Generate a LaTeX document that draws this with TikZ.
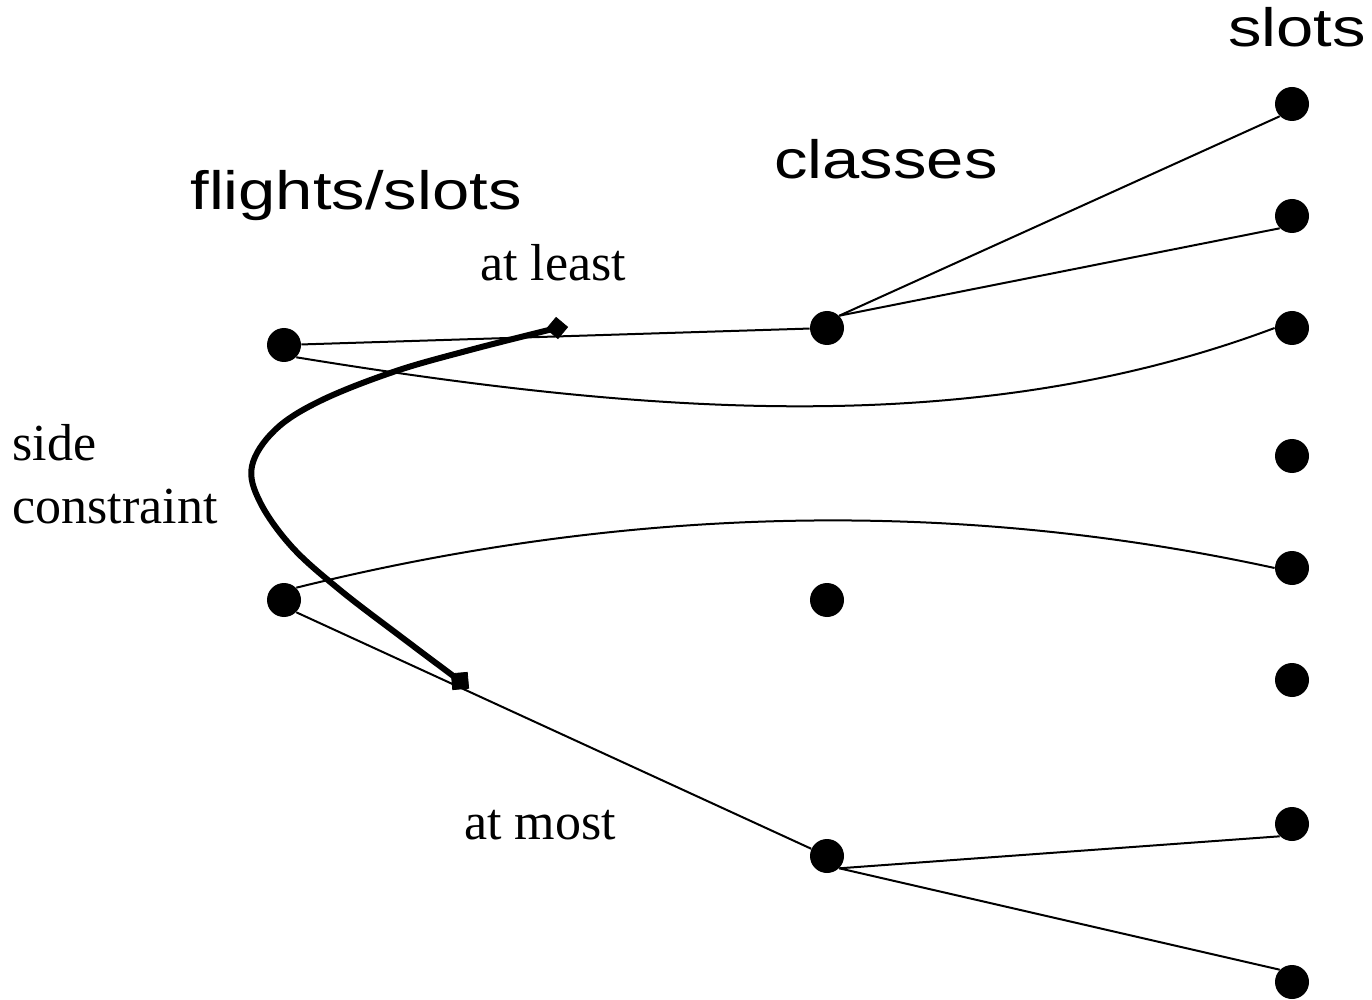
\documentclass[tikz,border=0pt]{standalone}
\usepackage{fontspec}
\setmainfont{Liberation Serif}
\newfontfamily\headfont[FakeStretch=1.24]{Liberation Sans}
\usetikzlibrary{positioning, shapes.geometric}
\newcommand{\headsize}{\fontsize{27}{32}\selectfont}
\newcommand{\labelsize}{\fontsize{26}{31.5}\selectfont}
\tikzset{dot/.style={circle, fill, inner sep=0pt, minimum size=17pt},
    thinline/.style={line width=1pt},
    thickline/.style={line width=3pt, line join=round},
    marker/.style={draw, fill, rectangle, inner sep=0pt}}

\begin{document}
\begin{tikzpicture}[x=0.5pt, y=-0.5pt]
        \useasboundingbox (0,0) rectangle (1372,1000);
        % headings
        \node[anchor=base, inner sep=0pt, font=\headfont\headsize] (fhead) at (356,210) {flights/slots};
        \node[anchor=base, inner sep=0pt, font=\headfont\headsize] (chead) at (886,179) {classes};
        \node[anchor=base, inner sep=0pt, font=\headfont\headsize] (shead) at (1297,47) {slots};
        % flights/slots
        \node[dot] (fone) at (284,345) {};
        \node[dot] (ftwo) at (284,600) {};
        % classes
        \node[dot] (cone) at (827,328) {};
        \node[dot] (ctwo) at (827,600) {};
        \node[dot] (cthree) at (827,856) {};
        % slots
        \node[dot] (sone) at (1292,104) {};
        \node[dot] (stwo) at (1292,216) {};
        \node[dot] (sthree) at (1292,328) {};
        \node[dot] (sfour) at (1292,456) {};
        \node[dot] (sfive) at (1292,568) {};
        \node[dot] (ssix) at (1292,680) {};
        \node[dot] (sseven) at (1292,824) {};
        \node[dot] (seight) at (1292,982) {};
        % labels
        \node[anchor=base, inner sep=0pt, font=\labelsize] (least) at (553,281) {at least};
        \node[anchor=base, inner sep=0pt, font=\labelsize] (most) at (540,839) {at most};
        \node[anchor=west, inner sep=0pt, align=left, font=\labelsize] (side) at (12,474) {side\\constraint};
        % edges
        \draw[thinline] (fone) -- (cone);
        \draw[thinline] (fone.south east) .. controls (650,415) and (976,440) .. (sthree.west);
        \draw[thinline] (ftwo.north east) .. controls (650,500) and (976,503) .. (sfive.west);
        \draw[thinline] (ftwo.south east) -- (cthree);
        \draw[thinline] (cone.north east) -- (sone.south west);
        \draw[thinline] (cone.north east) -- (stwo.south west);
        \draw[thinline] (cthree.south east) -- (sseven.south west);
        \draw[thinline] (cthree.south east) -- (seight.north west);
        % side constraint
        \node[marker, minimum size=7.5pt, rotate=-40] (mone) at (557,328) {};
        \node[marker, minimum size=8pt, rotate=5] (mtwo) at (460,681) {};
        \draw[thickline] plot[smooth, tension=0.6] coordinates {(mone) (470,350) (393,372) (320,401) (275,430) (252,466) (260,502) (292,547) (340,590) (400,636) (mtwo)};
    \end{tikzpicture}
\end{document}
